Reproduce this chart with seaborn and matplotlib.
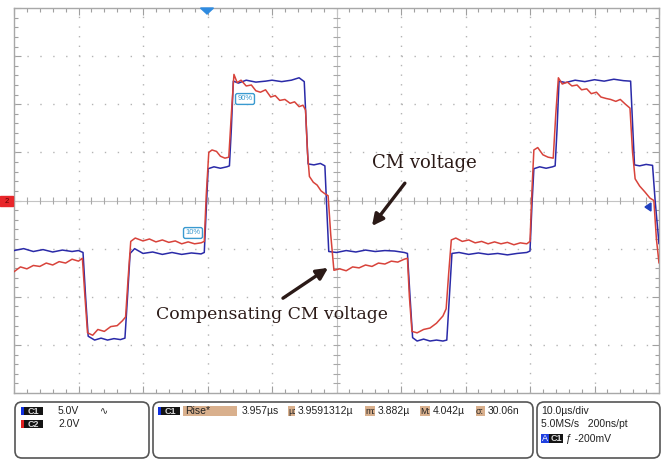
import numpy as np
import pandas as pd
import matplotlib
matplotlib.use("Agg")
import matplotlib.pyplot as plt
from matplotlib.patches import Rectangle, Polygon, FancyBboxPatch
from matplotlib.ticker import MultipleLocator
import seaborn as sns

# ---------------- data (time in us, level in screen divisions) ----------------
c1_time = [-50, -48.5, -47, -45.5, -44, -42.5, -41, -40, -39.3,
           -38.9, -38.5,
           -37.5, -36.5, -35.5, -34.5, -33.5, -32.8,
           -32.4, -32.0,
           -31.3, -30, -28.5, -27, -25.5, -24, -22.5, -21, -20.5,
           -20.2, -19.9,
           -19, -18, -17, -16.6,
           -16.3, -16.0,
           -15.2, -14, -12.5, -11, -10, -8.5, -7, -5.8, -5.0,
           -4.7, -4.4,
           -3.5, -2.5, -1.8,
           -1.5, -1.2,
           0, 1.5, 3, 4.5, 6, 7.5, 9, 10.5, 11.0,
           11.4, 11.8,
           12.5, 13.5, 14.5, 15.5, 16.5, 17.1,
           17.5, 17.9,
           19, 20.5, 22, 23.5, 25, 26.5, 28, 29.5, 30.0,
           30.3, 30.6,
           31.5, 32.5, 33.5, 33.9,
           34.2, 34.5,
           35.5, 37, 38.5, 40, 41.5, 43, 44.5, 45.6,
           45.9, 46.2,
           47, 48, 49.0,
           49.4, 50]
c1_level = [-1.04, -1.0, -1.06, -1.02, -1.07, -1.03, -1.06, -1.04, -1.08,
            -2.0, -2.82,
            -2.9, -2.86, -2.9, -2.87, -2.89, -2.86,
            -2.0, -1.1,
            -1.0, -1.1, -1.07, -1.12, -1.08, -1.12, -1.09, -1.11, -1.08,
            -0.2, 0.66,
            0.7, 0.67, 0.7, 0.72,
            1.5, 2.48,
            2.44, 2.5, 2.46, 2.48, 2.5, 2.47, 2.5, 2.55, 2.47,
            1.6, 0.76,
            0.74, 0.77, 0.72,
            -0.2, -1.06,
            -1.08, -1.04, -1.07, -1.03, -1.06, -1.04, -1.05, -1.08, -1.1,
            -2.0, -2.85,
            -2.92, -2.88, -2.92, -2.9, -2.92, -2.9,
            -2.0, -1.1,
            -1.08, -1.12, -1.09, -1.12, -1.1, -1.13, -1.1, -1.08, -1.05,
            -0.1, 0.66,
            0.7, 0.67, 0.7, 0.72,
            1.5, 2.48,
            2.45, 2.5, 2.47, 2.51, 2.48, 2.52, 2.49, 2.48,
            1.6, 0.74,
            0.72, 0.75, 0.73,
            0.0, -0.9]

c2_time = [-50, -49, -48, -47, -46, -45, -44, -43, -42, -41, -40, -39.4,
           -39.0, -38.6,
           -37.8, -37, -36, -35, -34, -33.2, -32.7,
           -32.3, -31.9,
           -31.2, -30, -29, -28, -27, -26, -25, -24, -23, -22, -21, -20.5,
           -20.2, -19.8,
           -19.3, -18.6, -18, -17.3, -16.7,
           -16.3, -15.9,
           -15.4, -14.8, -14, -13.2, -12.5, -11.8, -11, -10.2, -9.5, -8.8,
           -8, -7.2, -6.5, -5.8, -5.2, -4.8,
           -4.5, -4.2,
           -3.6, -3, -2.4, -1.8, -1.3,
           -0.9, -0.4,
           0.5, 1.5, 2.5, 3.5, 4.5, 5.5, 6.5, 7.5, 8.5, 9.5, 10.5, 11.0,
           11.3, 11.7,
           12.5, 13.5, 14.5, 15.5, 16.5, 17.0,
           17.4, 17.8,
           18.5, 19.5, 20.5, 21.5, 22.5, 23.5, 24.5, 25.5, 26.5, 27.5, 28.5,
           29.5, 30.0,
           30.3, 30.6,
           31.2, 32, 32.8, 33.6,
           34.0, 34.4,
           35, 35.8, 36.5, 37.3, 38, 38.8, 39.5, 40.3, 41, 41.8, 42.5, 43.3,
           44, 44.8, 45.5,
           45.9, 46.3,
           47, 47.8, 48.6, 49.2,
           49.6, 50]
c2_level = [-1.48, -1.38, -1.42, -1.35, -1.37, -1.3, -1.34, -1.27, -1.3, -1.22, -1.26, -1.2,
            -2.0, -2.75,
            -2.8, -2.68, -2.72, -2.62, -2.6, -2.5, -2.42,
            -1.6, -0.85,
            -0.78, -0.84, -0.8, -0.86, -0.82, -0.87, -0.84, -0.9, -0.86, -0.9, -0.88, -0.85,
            0.1, 1.0,
            1.05, 1.02, 0.92, 0.88, 0.9,
            1.8, 2.62,
            2.45, 2.5, 2.38, 2.4, 2.28, 2.25, 2.3, 2.15, 2.18, 2.08,
            2.1, 2.02, 2.05, 1.95, 1.98, 1.88,
            1.0, 0.5,
            0.38, 0.32, 0.2, 0.14, 0.1,
            -0.7, -1.45,
            -1.42, -1.46, -1.38, -1.4, -1.34, -1.37, -1.3, -1.32, -1.26, -1.28, -1.22, -1.2,
            -2.0, -2.72,
            -2.75, -2.68, -2.65, -2.55, -2.4, -2.25,
            -1.5, -0.82,
            -0.78, -0.85, -0.82, -0.88, -0.85, -0.9, -0.86, -0.9, -0.87, -0.92, -0.88,
            -0.9, -0.85,
            0.2, 1.05,
            1.1, 0.95, 0.9, 0.88,
            1.8, 2.55,
            2.42, 2.46, 2.38, 2.4, 2.3, 2.32, 2.22, 2.25, 2.15, 2.12, 2.1, 2.06,
            2.1, 2.0, 1.92,
            1.0, 0.45,
            0.3, 0.18, 0.05, 0.0,
            -0.8, -1.3]

channels = ["C1", "C2"]
channel_scale = ["5.0V", "2.0V"]
meas_label = "Rise*"
meas_value = "3.957µs"
stat_names = ["µ:", "m:", "M:", "σ:"]
stat_values = ["3.9591312µ", "3.882µ", "4.042µ", "30.06n"]
timebase = ["10.0µs/div", "5.0MS/s   200ns/pt"]
trigger_level = "ƒ -200mV"
annot_cm = "CM voltage"
annot_comp = "Compensating CM voltage"

# ---------------- figure ----------------
sns.set_theme(style="white")
plt.rcParams["font.family"] = ["Liberation Sans", "DejaVu Sans"]

W, H = 665, 459
fig = plt.figure(figsize=(W / 100, H / 100), dpi=100)
fig.patch.set_facecolor("white")

ax = fig.add_axes([14 / W, (H - 393) / H, 645 / W, 385 / H])
ax.set_xlim(-50, 50)
ax.set_ylim(-4, 4)

df = pd.concat([
    pd.DataFrame({"time": c1_time, "level": c1_level, "channel": channels[0]}),
    pd.DataFrame({"time": c2_time, "level": c2_level, "channel": channels[1]}),
])
sns.lineplot(data=df, x="time", y="level", hue="channel",
             hue_order=channels,
             palette={"C1": "#2a2aa8", "C2": "#d8433b"},
             estimator=None, sort=False, legend=False, linewidth=1.1,
             ax=ax, zorder=5)

# grid: dotted lines every division, solid centre cross with ticks
gcol = "#b4b4b4"
for gx in np.arange(-40, 41, 10):
    if gx != 0:
        ax.axvline(gx, color=gcol, lw=1.0, ls=(0, (1.0, 5.93)), zorder=1)
for gy in np.arange(-3, 4, 1):
    if gy != 0:
        ax.axhline(gy, color=gcol, lw=1.0, ls=(0, (1.0, 8.29)), zorder=1)
ax.axvline(0, color="#c4c4c4", lw=0.8, zorder=1)
ax.axhline(0, color="#c4c4c4", lw=0.8, zorder=1)
xt = np.arange(-50, 50.1, 2)
ax.vlines(xt, -0.07, 0.07, color="#a8a8a8", lw=0.8, zorder=1)
yt = np.arange(-4, 4.01, 0.2)
ax.hlines(yt, -0.55, 0.55, color="#a8a8a8", lw=0.8, zorder=1)

ax.xaxis.set_major_locator(MultipleLocator(10))
ax.xaxis.set_minor_locator(MultipleLocator(2))
ax.yaxis.set_major_locator(MultipleLocator(1))
ax.yaxis.set_minor_locator(MultipleLocator(0.2))
ax.tick_params(which="both", direction="in", top=True, right=True,
               bottom=True, left=True, labelbottom=False, labelleft=False,
               color="#a0a0a0", width=0.8)
ax.tick_params(which="major", length=5)
ax.tick_params(which="minor", length=3)
for s in ax.spines.values():
    s.set_color("#a8a8a8")
    s.set_linewidth(1.0)
ax.set_xlabel("")
ax.set_ylabel("")

# annotations
ann_col = "#2b1a17"
arrow_kw = dict(arrowstyle="-|>", color=ann_col, lw=2.4, mutation_scale=17,
                shrinkA=0, shrinkB=0)
ax.text(13.6, 0.78, annot_cm, fontsize=13, family="DejaVu Serif",
        color=ann_col, ha="center", va="center", zorder=10)
ax.annotate("", xy=(5.5, -0.53), xytext=(10.6, 0.36),
            arrowprops=arrow_kw, zorder=10)
ax.text(-10.0, -2.36, annot_comp, fontsize=12.4, family="DejaVu Serif",
        color=ann_col, ha="center", va="center", zorder=10)
ax.annotate("", xy=(-1.3, -1.40), xytext=(-8.3, -2.03),
            arrowprops=arrow_kw, zorder=10)

# ---------------- overlay in pixel coordinates ----------------
ov = fig.add_axes([0, 0, 1, 1], zorder=20)
ov.set_xlim(0, W)
ov.set_ylim(H, 0)
ov.axis("off")
ov.patch.set_alpha(0)

# markers on the graticule
ov.add_patch(Rectangle((0, 196), 13, 10, color="#e8262a"))
ov.text(6.5, 201.5, "2", fontsize=5.5, color="#5a0000", ha="center", va="center")
ov.add_patch(Polygon([(200.5, 8), (213.5, 8), (207, 14)], closed=True, color="#2f8be0"))
ov.add_patch(Polygon([(645, 207), (651, 203), (651, 211)], closed=True, color="#2040c0"))
for txt, x, y in [("10%", 193, 233), ("90%", 245, 99)]:
    ov.text(x, y, txt, fontsize=5.5, color="#3a9ad0", ha="center", va="center",
            bbox=dict(boxstyle="round,pad=0.25", fc="white", ec="#3a9ad0", lw=1.0))

# bottom info panels
box_ec = "#555555"
for x0, x1 in [(15, 149), (153, 533), (537, 660)]:
    ov.add_patch(FancyBboxPatch((x0, 402), x1 - x0, 56,
                                boxstyle="round,pad=0,rounding_size=7",
                                fc="white", ec=box_ec, lw=1.2))

fs = 7.5
tcol = "#222222"
stripe = {"C1": "#1030e0", "C2": "#e02020"}


def chan_tag(x, y, name):
    ov.add_patch(Rectangle((x, y - 4), 2.5, 8, color=stripe[name], lw=0))
    ov.add_patch(Rectangle((x + 2.5, y - 4), 19, 8, color="#141414", lw=0))
    ov.text(x + 12, y + 0.3, name, fontsize=6.5, color="#d8d8d8",
            ha="center", va="center", fontweight="bold")


for i, (ch, sc) in enumerate(zip(channels, channel_scale)):
    yy = 411 + 13 * i
    chan_tag(21, yy, ch)
    ov.text(58, yy, sc, fontsize=fs, color=tcol, va="center")
ov.text(100, 411, "∿", fontsize=7, color=tcol, va="center",
        family=["DejaVu Sans"])

chan_tag(158, 411, "C1")
tan = "#d9b08d"
ov.add_patch(Rectangle((183, 406), 54, 10, color=tan, lw=0))
ov.text(185, 411, meas_label, fontsize=fs, color=tcol, va="center")
ov.text(242, 411, meas_value, fontsize=fs, color=tcol, va="center")
for nm, val, xn, xv in zip(stat_names, stat_values, [288, 365, 420, 476],
                           [298, 378, 433, 488]):
    ov.add_patch(Rectangle((xn - 0.5, 406), xv - xn - 2.5, 10, color=tan, lw=0))
    ov.text(xn, 411, nm, fontsize=6.5, color=tcol, va="center")
    ov.text(xv, 411, val, fontsize=fs, color=tcol, va="center")

ov.text(541, 411, timebase[0], fontsize=fs, color=tcol, va="center")
ov.text(541, 424, timebase[1], fontsize=fs, color=tcol, va="center")
ov.add_patch(Rectangle((541, 434), 8, 9, color="#2040e0", lw=0))
ov.text(545, 438.8, "A", fontsize=6.5, color="white", ha="center", va="center")
ov.add_patch(Rectangle((549, 434), 14, 9, color="#141414", lw=0))
ov.text(556, 438.8, "C1", fontsize=6.5, color="#d8d8d8", ha="center",
        va="center", fontweight="bold")
ov.text(566, 438.5, trigger_level, fontsize=fs, color=tcol, va="center",
        family=["Liberation Sans", "DejaVu Sans"])

fig.savefig("out.png", dpi=100)
